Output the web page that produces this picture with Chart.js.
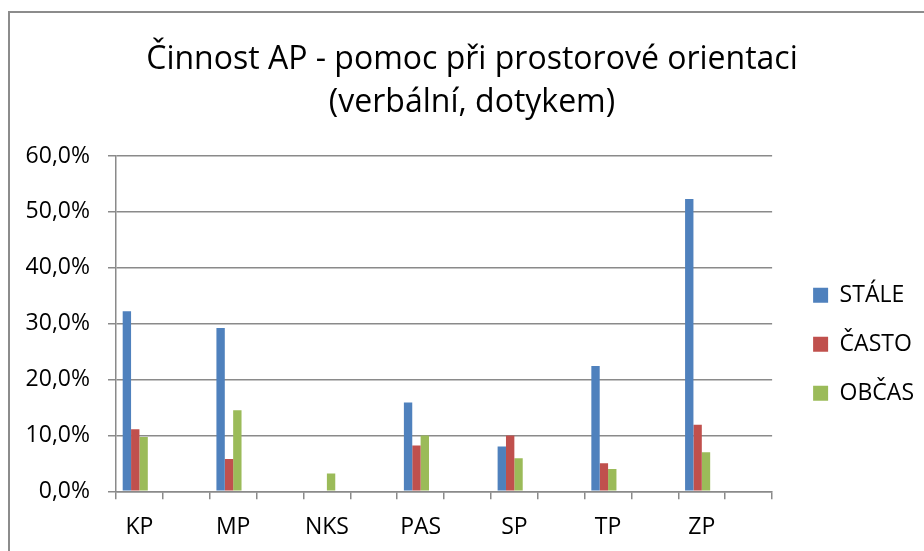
<!DOCTYPE html>
<html>
<head>
<meta charset="utf-8">
<script src="https://cdn.jsdelivr.net/npm/chart.js@4"></script>
<style>
	html, body { margin: 0; padding: 0; overflow: hidden; background: #fff; }
	#frame { position: absolute; left: 8px; top: 11px; width: 1000px; height: 1000px; border: 2px solid #8c8c8c; box-sizing: border-box; }
	#wrap { position: absolute; left: 0; top: 0; width: 924px; height: 551px; }
</style>
</head>
<body>
<div id="frame"></div>
<div id="wrap"><canvas id="apChart"></canvas></div>
<script>
// kategorie (každá druhá bez popisku, jako v originále)
const categories = ["KP", "", "MP", "", "NKS", "", "PAS", "", "SP", "", "TP", "", "ZP", ""];

// hodnoty v %
const stale = [32.2, null, 29.2, null, 0, null, 15.9, null, 8.0, null, 22.4, null, 52.3, null];
const casto = [11.1, null, 5.8, null, 0, null, 8.2, null, 10.0, null, 5.0, null, 11.9, null];
const obcas = [9.7, null, 14.5, null, 3.2, null, 10.0, null, 5.9, null, 4.0, null, 7.0, null];
// prázdná 4. řada (místo ve skupině sloupců)
const empty = [];

const yTicks = { min: 0, max: 60, step: 10 };
const titleLines = ["Činnost AP - pomoc při prostorové orientaci", "(verbální, dotykem)"];

const gridColor = '#8a8a8a';
const fontFamily = "'Open Sans', sans-serif";

const ctx = document.getElementById('apChart').getContext('2d');
const apChart = new Chart(ctx, {
	type: 'bar',
	data: {
		labels: categories,
		datasets: [{
			label: 'STÁLE',
			data: stale,
			backgroundColor: '#4F81BD'
		}, {
			label: 'ČASTO',
			data: casto,
			backgroundColor: '#C0504D'
		}, {
			label: 'OBČAS',
			data: obcas,
			backgroundColor: '#9BBB59'
		}, {
			label: '',
			data: empty,
			backgroundColor: 'transparent'
		}]
	},
	options: {
		responsive: true,
		maintainAspectRatio: false,
		animation: false,
		categoryPercentage: 1 / 1.4,
		barPercentage: 1,
		layout: {
			padding: { left: 20, right: 0, top: 0, bottom: 10.7 }
		},
		plugins: {
			title: {
				display: true,
				text: titleLines,
				color: '#000',
				font: { family: fontFamily, size: 32, weight: 'normal', lineHeight: 1.35 },
				padding: { top: 38, bottom: 31.6 }
			},
			legend: {
				position: 'right',
				align: 'center',
				// prázdný titulek legendy jen posouvá položky dolů
				title: {
					display: true,
					text: '',
					font: { size: 10 },
					padding: { top: 136, bottom: 0 }
				},
				labels: {
					boxWidth: 15,
					boxHeight: 15,
					padding: 26,
					color: '#000',
					font: { family: fontFamily, size: 23 },
					filter: item => item.text !== ''
				}
			},
			tooltip: { enabled: false }
		},
		scales: {
			x: {
				afterFit: scale => { scale.height = 49; },
				grid: {
					offset: true,
					drawOnChartArea: false,
					drawTicks: true,
					tickLength: 8,
					color: gridColor,
					lineWidth: 1.5
				},
				border: { display: true, color: gridColor, width: 1.5 },
				ticks: {
					autoSkip: false,
					maxRotation: 0,
					padding: 14.4,
					color: '#000',
					font: { family: fontFamily, size: 23 }
				}
			},
			y: {
				min: yTicks.min,
				max: yTicks.max,
				afterFit: scale => { scale.width = 96; },
				grid: {
					color: gridColor,
					lineWidth: 1.5,
					drawTicks: true,
					tickLength: 8
				},
				border: { display: true, color: gridColor, width: 1.5 },
				ticks: {
					stepSize: yTicks.step,
					padding: 18,
					color: '#000',
					font: { family: fontFamily, size: 23 },
					callback: v => v.toFixed(1).replace('.', ',') + '%'
				}
			},
			// jen mezera mezi grafem a legendou
			gap: {
				position: 'right',
				display: true,
				grid: { display: false },
				border: { display: false },
				ticks: { display: false },
				afterFit: scale => { scale.width = 15; }
			}
		}
	}
});
</script>
</body>
</html>
